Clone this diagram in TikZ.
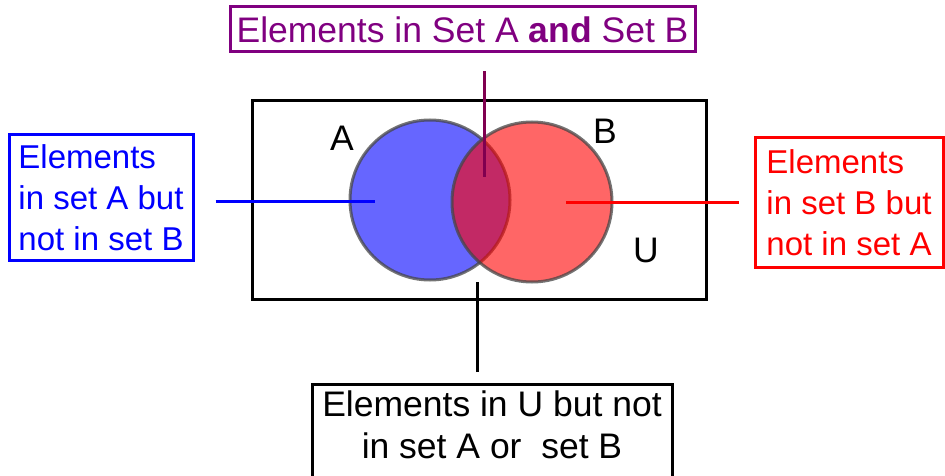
\documentclass[tikz,border=0pt]{standalone}
\usepackage{fontspec}
\setmainfont{Liberation Sans}
\usepackage{xcolor}
\usepackage{tikz}

\definecolor{setblue}{RGB}{0,0,255}
\definecolor{setred}{RGB}{255,0,0}
\definecolor{setpurple}{RGB}{128,0,128}
\definecolor{stemplum}{RGB}{128,0,80}
\definecolor{ringgray}{RGB}{70,70,70}

\begin{document}
\begin{tikzpicture}[
    x=1pt, y=-1pt,
    txt/.style    = {font=\fontsize{35.5}{42}\selectfont},
    side/.style   = {font=\fontsize{33}{41}\selectfont},
    note/.style   = {txt, rectangle, draw, line width=3pt, inner sep=0pt,
                     align=left},
    ring/.style   = {circle, minimum size=160pt, inner sep=0pt,
                     draw=ringgray, draw opacity=0.75, line width=3pt,
                     fill opacity=0.6},
    stem/.style   = {line width=3pt}
]
\useasboundingbox (0,0) rectangle (945,476);

%% Universe and the two sets
\node[draw, line width=3pt, minimum width=454pt, minimum height=198pt,
      inner sep=0pt] (univ) at (479,200) {};
\node[ring, fill=setblue] (setA) at (430,200) {};
\node[ring, fill=setred]  (setB) at (532,202) {};

\node[txt] (labA) at (342,138) {A};
\node[txt] (labB) at (605,131) {B};
\node[txt] (labU) at (646,250) {U};

%% Explanation boxes
\node[note, setpurple, minimum width=465pt, minimum height=45pt]
      (both)  at (462.5,29.5) {Elements in Set A \textbf{and} Set B};
\node[note, side, setblue, minimum width=184pt, minimum height=125pt]
      (onlyA) at (101,197.5) {Elements\\in set A but\\not in set B};
\node[note, side, setred, minimum width=188pt, minimum height=129pt]
      (onlyB) at (849,202.5) {Elements\\in set B but\\not in set A};
\node[note, black, align=center, anchor=north, minimum width=360pt,
      inner ysep=6pt, text depth=40pt]
      (none)  at (492,383) {Elements in U but not\\in set A or~~set B};

%% Pointer ends inside the diagram
\coordinate (inA)    at (375,201);
\coordinate (inB)    at (566,202);
\coordinate (inAB)   at (484,177);
\coordinate (inU)    at (477,282);

%% Pointers
\draw[stem, setblue,  shorten <=21pt] (onlyA.east |- inA) -- (inA);
\draw[stem, setred,   shorten <=15pt] (onlyB.west |- inB) -- (inB);
\draw[stem, stemplum, shorten <=18pt] (both.south -| inAB) -- (inAB);
\draw[stem, black,    shorten <=11pt] (none.north -| inU) -- (inU);

\end{tikzpicture}
\end{document}
